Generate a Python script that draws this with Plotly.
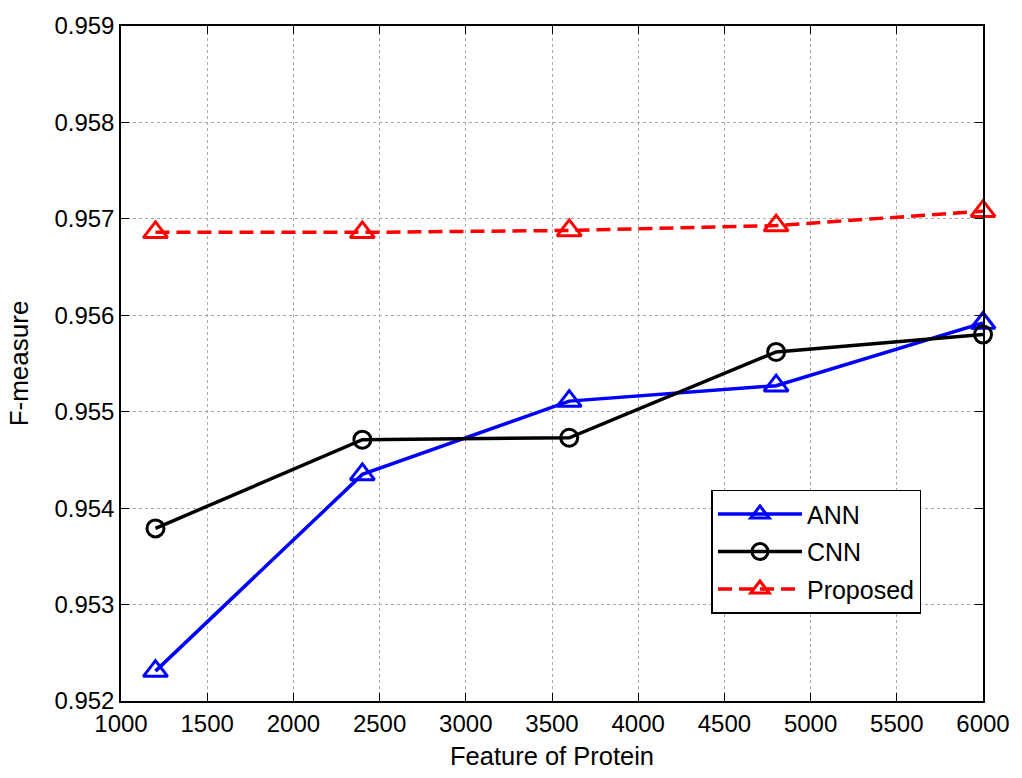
import plotly.graph_objects as go

features = [1200, 2400, 3600, 4800, 6000]
ann = [0.95231, 0.95435, 0.95511, 0.95527, 0.95592]
cnn = [0.95379, 0.95471, 0.95473, 0.95562, 0.95580]
proposed = [0.95686, 0.95686, 0.95688, 0.95693, 0.95708]

x_ticks = [1000, 1500, 2000, 2500, 3000, 3500, 4000, 4500, 5000, 5500, 6000]
y_ticks = [0.952, 0.953, 0.954, 0.955, 0.956, 0.957, 0.958, 0.959]

font_family = "Liberation Sans, Arial, Helvetica, sans-serif"

fig = go.Figure()
fig.add_trace(go.Scatter(
    x=features, y=ann, name="ANN", mode="lines+markers", legendgroup="a", cliponaxis=False,
    line=dict(color="#0000ff", width=3.5),
    marker=dict(symbol="triangle-up-open", size=21, color="#0000ff", line=dict(width=3, color="#0000ff")),
))
fig.add_trace(go.Scatter(
    x=features, y=cnn, name="CNN", mode="lines+markers", legendgroup="b", cliponaxis=False,
    line=dict(color="#000000", width=3.5),
    marker=dict(symbol="circle-open", size=17, color="#000000", line=dict(width=3, color="#000000")),
))
fig.add_trace(go.Scatter(
    x=features, y=proposed, name="Proposed", mode="lines+markers", legendgroup="c", cliponaxis=False,
    line=dict(color="#ff0000", width=3.5, dash="14px,7px"),
    marker=dict(symbol="triangle-up-open", size=21, color="#ff0000", line=dict(width=3, color="#ff0000")),
))

axis_common = dict(
    showgrid=True, gridcolor="#a8a8a8", griddash="dot", gridwidth=1,
    showline=True, linecolor="black", linewidth=1.5, mirror="ticks",
    ticks="inside", ticklen=8, tickcolor="black", tickwidth=1,
    zeroline=False,
    tickfont=dict(family=font_family, size=24, color="black"),
)

fig.update_layout(
    width=1022, height=778,
    margin=dict(l=121, r=32, t=20, b=74),
    paper_bgcolor="white", plot_bgcolor="white",
    font=dict(family=font_family, size=24, color="black"),
    xaxis=dict(range=[1000, 6000], tickvals=x_ticks, ticktext=[str(v) for v in x_ticks],
               title=dict(text="Feature of Protein", font=dict(family=font_family, size=25.5), standoff=12),
               **axis_common),
    yaxis=dict(range=[0.952, 0.959], tickvals=y_ticks, ticktext=[f"{v:.3f}" for v in y_ticks],
               title=dict(text="F-measure", font=dict(family=font_family, size=26), standoff=18),
               **axis_common),
    legend=dict(x=0.685, y=0.313, xanchor="left", yanchor="top",
                bgcolor="white", bordercolor="black", borderwidth=1.5,
                font=dict(family=font_family, size=25),
                itemwidth=84, tracegroupgap=2),
    showlegend=True,
)

fig.write_html("out.html", config={"displayModeBar": False},
               post_script="document.body.style.margin='0';")
